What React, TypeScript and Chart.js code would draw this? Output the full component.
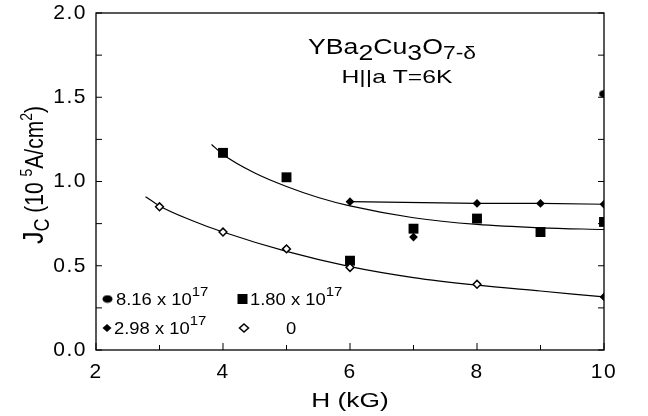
import React, { useEffect, useRef } from 'react';
import { Chart, registerables } from 'chart.js';

Chart.register(...registerables);

const FONT = '"Liberation Sans", Arial, Helvetica, sans-serif';

// tick values
const xTicksMajor = [2, 4, 6, 8, 10];
const xTicksMinor = [3, 5, 7, 9];
const yTicksMajor = [0, 0.5, 1.0, 1.5, 2.0];
const yTicksMinor = [0.25, 0.75, 1.25, 1.75];

// measured points (H in kG, Jc in 10^5 A/cm^2)
const h816 = [10];
const jc816 = [1.52];
const h180 = [4, 5, 6, 7, 8, 9, 10];
const jc180 = [1.17, 1.025, 0.53, 0.72, 0.78, 0.70, 0.76];
const h298 = [6, 7, 8, 9, 10, 10];
const jc298 = [0.88, 0.67, 0.87, 0.87, 0.865, 0.315];
const h0 = [3, 4, 5, 6, 8];
const jc0 = [0.85, 0.70, 0.60, 0.49, 0.39];

// guide curves
const fitUpperH = [3.82, 4, 4.5, 5, 5.5, 6, 7, 8, 9, 10];
const fitUpperJ = [1.22, 1.16, 1.05, 0.97, 0.905, 0.855, 0.785, 0.745, 0.725, 0.715];
const flatH = [6, 8, 9, 10];
const flatJ = [0.88, 0.87, 0.87, 0.865];
const fitLowerH = [2.78, 3, 3.5, 4, 5, 6, 7, 8, 9, 10];
const fitLowerJ = [0.91, 0.855, 0.77, 0.70, 0.585, 0.495, 0.43, 0.385, 0.35, 0.315];

const legendLabels = ['8.16 x 10', '1.80 x 10', '2.98 x 10', '0'];
const legendExp = '17';

type Part = { t: string; size: number; dy: number };

export default function App() {
  const ref = useRef<HTMLCanvasElement>(null);

  useEffect(() => {
    document.body.style.margin = '0';
    const ell = document.createElement('canvas');
    ell.width = 11;
    ell.height = 9;
    const ec = ell.getContext('2d')!;
    ec.fillStyle = '#000';
    ec.beginPath();
    ec.ellipse(5.5, 4.5, 5, 3.8, 0, 0, Math.PI * 2);
    ec.fill();

    const pts = (xs: number[], ys: number[]) => xs.map((x, i) => ({ x, y: ys[i] }));

    // draws a run of text pieces; sx/sy stretch glyphs (in local coords)
    const drawRich = (
      ctx: CanvasRenderingContext2D,
      parts: Part[],
      x: number,
      y: number,
      align: 'left' | 'center',
      sx: number,
      sy: number
    ) => {
      let total = 0;
      parts.forEach((p) => {
        ctx.font = `${p.size}px ${FONT}`;
        total += ctx.measureText(p.t).width;
      });
      ctx.save();
      ctx.translate(x, y);
      ctx.scale(sx, sy);
      let cx = align === 'center' ? -total / 2 : 0;
      parts.forEach((p) => {
        ctx.font = `${p.size}px ${FONT}`;
        ctx.fillText(p.t, cx, p.dy);
        cx += ctx.measureText(p.t).width;
      });
      ctx.restore();
    };

    const framePlugin = {
      id: 'frame',
      beforeDraw(chart: any) {
        (chart.ctx as any).letterSpacing = '1.5px';
      },
      beforeDatasetsDraw(chart: any) {
        (chart.ctx as any).letterSpacing = '0px';
      },
      afterDraw(chart: any) {
        const ctx: CanvasRenderingContext2D = chart.ctx;
        (ctx as any).letterSpacing = '0px';
        const { left, right, top, bottom } = chart.chartArea;
        const xs = chart.scales.x;
        const ys = chart.scales.y;
        ctx.save();
        ctx.strokeStyle = '#000';
        ctx.lineWidth = 1.3;
        ctx.strokeRect(left, top, right - left, bottom - top);
        ctx.lineWidth = 1;
        ctx.beginPath();
        xTicksMajor.forEach((v) => {
          const px = xs.getPixelForValue(v);
          ctx.moveTo(px, bottom);
          ctx.lineTo(px, bottom - 7);
        });
        xTicksMinor.forEach((v) => {
          const px = xs.getPixelForValue(v);
          ctx.moveTo(px, bottom);
          ctx.lineTo(px, bottom - 5);
        });
        [...yTicksMajor, ...yTicksMinor].forEach((v) => {
          const py = ys.getPixelForValue(v);
          ctx.moveTo(left, py);
          ctx.lineTo(left + 6, py);
          ctx.moveTo(right, py);
          ctx.lineTo(right - 6, py);
        });
        ctx.stroke();

        ctx.fillStyle = '#000';
        ctx.textBaseline = 'alphabetic';
        // title
        drawRich(
          ctx,
          [
            { t: 'YBa', size: 21, dy: 0 },
            { t: '2', size: 21, dy: 6 },
            { t: 'Cu', size: 21, dy: 0 },
            { t: '3', size: 21, dy: 6 },
            { t: 'O', size: 21, dy: 0 },
            { t: '7-δ', size: 18, dy: 5 },
          ],
          308,
          54,
          'left',
          1.27,
          1.05
        );
        drawRich(ctx, [{ t: 'H||a T=6K', size: 19, dy: 0 }], 397, 83, 'center', 1.3, 1);

        // legend
        const row1 = 299;
        const row2 = 328;
        ctx.drawImage(ell, 102, row1 - 4.5);
        ctx.fillRect(237.5, row1 - 5, 10, 10);
        const diamond = (x: number, y: number, fill: boolean) => {
          ctx.beginPath();
          ctx.moveTo(x, y - 4);
          ctx.lineTo(x + 4.5, y);
          ctx.lineTo(x, y + 4);
          ctx.lineTo(x - 4.5, y);
          ctx.closePath();
          if (fill) ctx.fill();
          else {
            ctx.fillStyle = '#fff';
            ctx.fill();
            ctx.fillStyle = '#000';
            ctx.lineWidth = 1.5;
            ctx.stroke();
          }
        };
        diamond(107, row2, true);
        diamond(244, row2, false);
        const leg = (label: string, x: number, y: number, exp: boolean) => {
          const parts: Part[] = [{ t: label, size: 16, dy: 0 }];
          if (exp) parts.push({ t: legendExp, size: 13, dy: -9 });
          drawRich(ctx, parts, x, y, 'left', 1.15, 1);
        };
        leg(legendLabels[0], 116, row1 + 6, true);
        leg(legendLabels[1], 250, row1 + 6, true);
        leg(legendLabels[2], 114, row2 + 6, true);
        leg(legendLabels[3], 286, row2 + 6, false);

        // x title
        drawRich(ctx, [{ t: 'H (kG)', size: 21, dy: 0 }], (left + right) / 2, 407, 'center', 1.25, 1);

        // y title (rotated)
        ctx.translate(43, 175);
        ctx.rotate(-Math.PI / 2);
        drawRich(
          ctx,
          [
            { t: 'J', size: 25, dy: 0 },
            { t: 'C', size: 18, dy: 5 },
            { t: ' (10 ', size: 21, dy: 0 },
            { t: '5', size: 14, dy: -9 },
            { t: 'A/cm', size: 21, dy: 0 },
            { t: '2', size: 14, dy: -9 },
            { t: ')', size: 21, dy: 0 },
          ],
          0,
          0,
          'center',
          1,
          1.2
        );
        ctx.restore();
      },
    };

    const lineDs = (xs: number[], ys: number[], tension: number) => ({
      data: pts(xs, ys),
      showLine: true,
      borderColor: '#000',
      borderWidth: 1.2,
      pointRadius: 0,
      tension,
      cubicInterpolationMode: tension > 0 ? ('monotone' as const) : ('default' as const),
      fill: false,
      order: 2,
    });

    const chart = new Chart(ref.current!, {
      type: 'scatter',
      plugins: [framePlugin],
      data: {
        datasets: [
          lineDs(fitUpperH, fitUpperJ, 0.4),
          lineDs(flatH, flatJ, 0),
          lineDs(fitLowerH, fitLowerJ, 0.4),
          {
            data: pts(h180, jc180),
            pointStyle: 'rect',
            pointRadius: 7,
            backgroundColor: '#000',
            borderColor: '#000',
            borderWidth: 0,
            order: 1,
          },
          {
            data: pts(h298, jc298),
            pointStyle: 'rectRot',
            pointRadius: 4.4,
            backgroundColor: '#000',
            borderColor: '#000',
            borderWidth: 0,
            order: 0,
          },
          {
            data: pts(h0, jc0),
            pointStyle: 'rectRot',
            pointRadius: 3.9,
            backgroundColor: '#fff',
            borderColor: '#000',
            borderWidth: 1.5,
            order: 0,
          },
          {
            data: pts(h816, jc816),
            pointStyle: ell as any,
            order: 0,
          },
        ],
      },
      options: {
        responsive: false,
        animation: false,
        events: [],
        layout: { padding: { left: 0, right: 44, top: 13, bottom: 0 } },
        plugins: { legend: { display: false }, tooltip: { enabled: false }, title: { display: false } },
        scales: {
          x: {
            type: 'linear',
            min: 2,
            max: 10,
            afterFit: (s: any) => {
              s.height = 66;
              s.paddingLeft = 0;
              s.paddingRight = 0;
            },
            grid: { display: false, drawTicks: false },
            border: { display: false },
            ticks: {
              stepSize: 2,
              padding: 10,
              color: '#000',
              font: { family: FONT, size: 21 },
              maxRotation: 0,
            },
          },
          y: {
            type: 'linear',
            min: 0,
            max: 2,
            afterFit: (s: any) => {
              s.width = 96;
              s.paddingTop = 0;
              s.paddingBottom = 0;
            },
            grid: { display: false, drawTicks: false },
            border: { display: false },
            ticks: {
              stepSize: 0.5,
              padding: 9,
              color: '#000',
              font: { family: FONT, size: 21 },
              callback: (v: any) => Number(v).toFixed(1),
            },
          },
        },
      },
    });
    return () => chart.destroy();
  }, []);

  return (
    <div style={{ width: 648, height: 416, position: 'relative', background: '#fff' }}>
      <canvas ref={ref} width={648} height={416} style={{ display: 'block' }} />
    </div>
  );
}
